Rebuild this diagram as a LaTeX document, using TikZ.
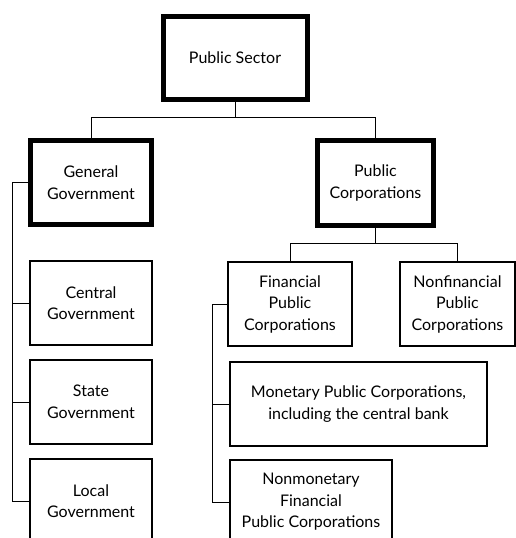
\documentclass[tikz,border=0pt]{standalone}
\usepackage{fontspec}
\setmainfont{Lato}
\usetikzlibrary{calc,positioning}

\tikzset{
  unit/.style={draw, line width=1.1pt, align=center, inner sep=2pt,
    minimum height=84pt, font=\fontsize{16}{21.5}\selectfont},
  mainunit/.style={unit, line width=5pt},
  link/.style={line width=0.9pt}
}

\begin{document}
\begin{tikzpicture}[x=1pt,y=-1pt]
    \clip (0,0) rectangle (516,538);
    %% \draw[help lines] (0,0) grid (516,538);
    \node[mainunit, minimum width=144pt, minimum height=83pt] (ps) at (235,57.5) {Public Sector};
    \node[mainunit, minimum width=121pt] (gg) at (91,182.5) {General\\Government};
    \node[mainunit, minimum width=116pt, minimum height=85pt] (pc) at (375.5,183) {Public\\Corporations};
    \node[unit, minimum width=122pt] (cg) at (91,303) {Central\\Government};
    \node[unit, minimum width=122pt] (sg) at (91,402) {State\\Government};
    \node[unit, minimum width=122pt] (lg) at (91,501) {Local\\Government};
    \node[unit, minimum width=124pt] (fpc) at (290,304) {Financial\\Public\\Corporations};
    \node[unit, minimum width=115pt] (nfpc) at (457.5,304) {Nonfinancial\\Public\\Corporations};
    \node[unit, minimum width=257pt] (mpc) at (358.5,404) {Monetary Public Corporations,\\including the central bank};
    \node[unit, minimum width=162pt] (nmpc) at (311,502) {Nonmonetary\\Financial\\Public Corporations};
    \coordinate (bar1) at (0,117);
    \coordinate (bar2) at (0,243);
    \coordinate (spine1) at (12,0);
    \coordinate (spine2) at (212,0);
    \draw[link] (ps.south) -- (ps.south |- bar1);
    \draw[link] (gg.north) -- (gg.north |- bar1) -- (pc.north |- bar1) -- (pc.north);
    \draw[link] (pc.south) -- (pc.south |- bar2);
    \draw[link] (fpc.north) -- (fpc.north |- bar2) -- (nfpc.north |- bar2) -- (nfpc.north);
    \draw[link] (gg.west) -- (gg.west -| spine1) -- (lg.west -| spine1) -- (lg.west);
    \foreach \n in {cg,sg}
      \draw[link] (\n.west) -- (\n.west -| spine1);
    \draw[link] (fpc.west) -- (fpc.west -| spine2) -- (nmpc.west -| spine2) -- (nmpc.west);
    \draw[link] (mpc.west) -- (mpc.west -| spine2);
  \end{tikzpicture}
\end{document}
